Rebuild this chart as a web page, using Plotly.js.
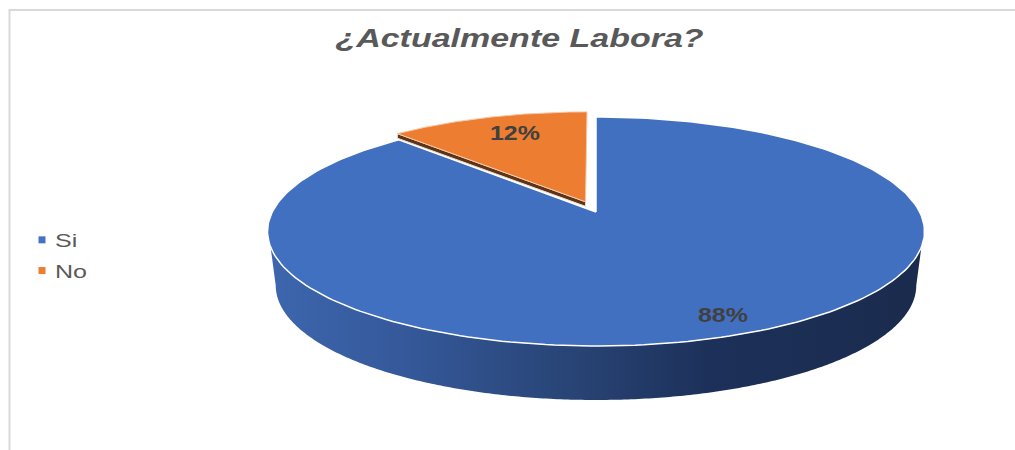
<!DOCTYPE html>
<html><head><meta charset="utf-8">
<script src="https://cdn.plot.ly/plotly-3.0.1.min.js"></script>
<style>html,body{margin:0;padding:0;background:#fff}
.gtitle{transform-box:fill-box;transform-origin:center;transform:scaleX(1.36)}
.annotation-text{transform-box:fill-box;transform-origin:center;transform:scaleX(1.28)}
.legendtext{transform-box:fill-box;transform-origin:left center;transform:translateX(-7px) scaleX(1.32)}
</style>
</head><body><div id="chart" style="width:1015px;height:450px"></div>
<script>
const categories = ['Si', 'No'];
const values = [88, 12];
const faceColors = ['#4270c0', '#ed7d31'];
const legendColors = ['#4472c4', '#ed7d31'];
const chartTitle = '¿Actualmente Labora?';

// Projection of the tilted disc on the axes
const cx = 596, cy = 212, R = 323.7, Ry = 111.2, k = 0.17;
function project(s, c) {
  const w = 1 + k * c;
  return [cx + R * s / w, cy - Ry * c / w];
}
const total = values.reduce((a, b) => a + b, 0);
const noFrac = values[1] / total;
const splitAngle = 2 * Math.PI * (1 - noFrac);   // clockwise from 12 o'clock

function sector(a0, a1, r, ox, oy) {
  const xs = [], ys = [];
  let p = project(ox, oy); xs.push(p[0]); ys.push(p[1]);
  const n = 240;
  for (let i = 0; i <= n; i++) {
    const a = a0 + (a1 - a0) * i / n;
    p = project(ox + r * Math.sin(a), oy + r * Math.cos(a));
    xs.push(p[0]); ys.push(p[1]);
  }
  xs.push(xs[0]); ys.push(ys[0]);
  return {x: xs, y: ys};
}

// Visible outer wall of the big slice
function wall() {
  const xs = [], ys = [], n = 300;
  const aR = Math.PI * 0.597, aL = Math.PI * 1.403;
  for (let i = 0; i <= n; i++) {
    const a = aR + (aL - aR) * i / n;
    const p = project(Math.sin(a), Math.cos(a));
    xs.push(p[0]); ys.push(p[1]);
  }
  const bL = Math.PI * 1.4456, bR = Math.PI * 0.5544;
  for (let i = 0; i <= n; i++) {
    const a = bL + (bR - bL) * i / n;
    const p = project(Math.sin(a), Math.cos(a));
    xs.push(cx + (p[0] - cx) * 0.975); ys.push(p[1] + 54);
  }
  xs.push(xs[0]); ys.push(ys[0]);
  return {x: xs, y: ys};
}

const pull = 0.1, mid = (splitAngle + 2 * Math.PI) / 2;
const ox = pull * Math.sin(mid) + 0.004, oy = pull * Math.cos(mid);
const blue = sector(0, splitAngle, 1, 0, 0);
const orange = sector(splitAngle, 2 * Math.PI, 0.97, ox, oy);
const tip = [orange.x[1], orange.y[1]], apex = [orange.x[0], orange.y[0]];
const cut = {x: [tip[0], apex[0], apex[0], tip[0], tip[0]],
             y: [tip[1], apex[1], apex[1] + 4.5, tip[1] + 4.5, tip[1]]};
const side = wall();

const area = (d, color, line, name) => ({
  type: 'scatter', mode: line ? 'lines' : 'none', x: d.x, y: d.y, fill: 'toself', fillcolor: color,
  line: line || {width: 0}, hoverinfo: 'skip', showlegend: false, name: name
});
const wallTrace = area(side, '#1a2c50', null, 'Si');
wallTrace.fillgradient = {type: 'horizontal', colorscale: [
  [0, '#3d66ad'], [0.2, '#35599b'], [0.45, '#294577'], [0.68, '#1c3059'], [1, '#1a2b4d']]};
delete wallTrace.fillcolor;

const legendTraces = categories.map((c, i) => ({
  type: 'scatter', mode: 'markers', x: [null], y: [null], name: c, legendgroup: c,
  marker: {symbol: 'square', size: 7, color: legendColors[i]}, hoverinfo: 'skip'
}));

const traces = [
  wallTrace,
  area(blue, faceColors[0], {color: '#ffffff', width: 1.5}, categories[0]),
  area(cut, '#5f3316', {color: '#e8e0da', width: 1}, categories[1]),
  area(orange, faceColors[1], {color: '#f6c9a8', width: 1}, categories[1]),
  ...legendTraces
];

const layout = {
  width: 1015, height: 450, margin: {l: 0, r: 0, t: 0, b: 0},
  paper_bgcolor: '#ffffff', plot_bgcolor: '#ffffff',
  title: {text: '<b><i>' + chartTitle + '</i></b>', x: 519.5 / 1015, xanchor: 'center', y: 1 - 38 / 450, yanchor: 'middle',
    font: {family: 'Liberation Sans', size: 25, color: '#595959'}},
  xaxis: {range: [0, 1015], visible: false, fixedrange: true},
  yaxis: {range: [450, 0], visible: false, fixedrange: true},
  legend: {x: 22 / 1015, xanchor: 'left', y: 1 - 221 / 450, yanchor: 'top', traceorder: 'grouped', tracegroupgap: 3,
    font: {family: 'Liberation Sans', size: 19, color: '#595959'}, itemwidth: 30, bgcolor: 'rgba(0,0,0,0)'},
  annotations: [
    {x: 723, y: 315.5, text: '<b>' + values[0] + '%</b>', showarrow: false, font: {family: 'Liberation Sans', size: 19.5, color: '#404040'}},
    {x: 515, y: 134, text: '<b>' + values[1] + '%</b>', showarrow: false, font: {family: 'Liberation Sans', size: 19.5, color: '#404040'}}
  ],
  shapes: [
    {type: 'line', x0: 9.5, x1: 9.5, y0: 9, y1: 450, line: {color: '#d9d9d9', width: 2}},
    {type: 'line', x0: 9, x1: 1015, y0: 10, y1: 10, line: {color: '#d9d9d9', width: 2}}
  ]
};
Plotly.newPlot('chart', traces, layout, {displayModeBar: false, staticPlot: true});
</script></body></html>
